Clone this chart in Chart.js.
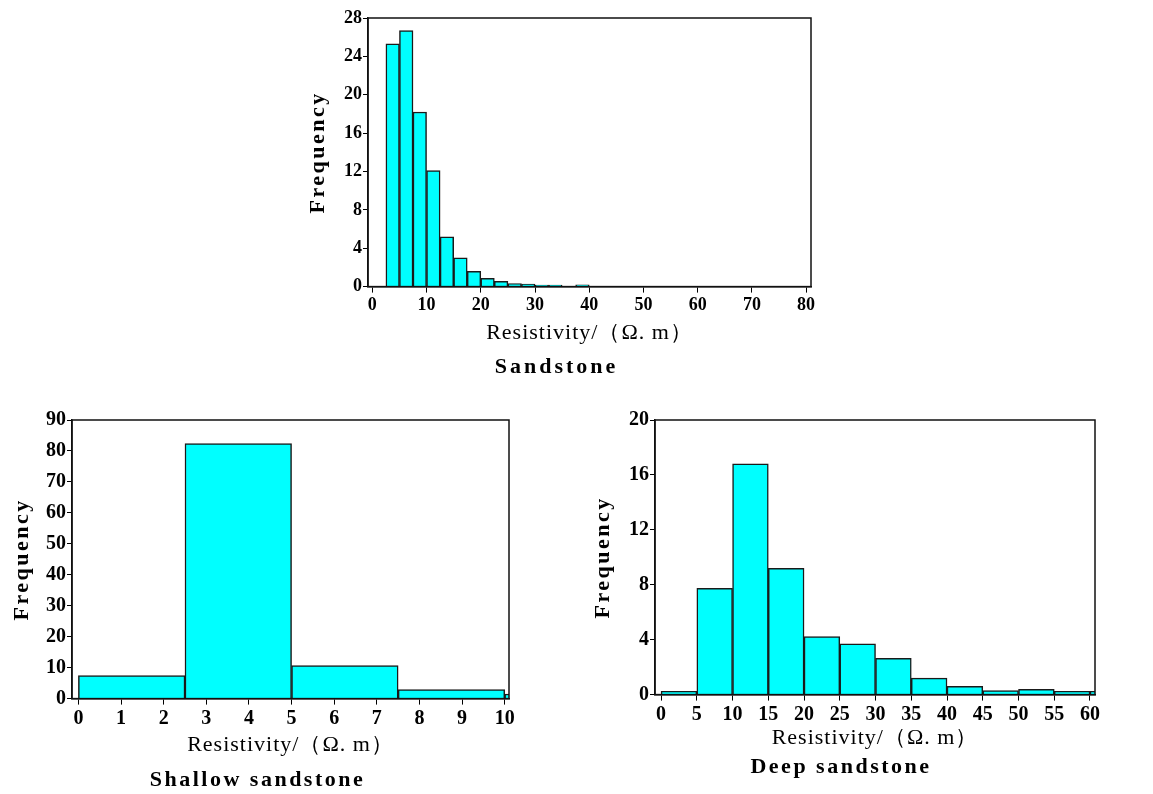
<!DOCTYPE html>
<html>
<head>
<meta charset="utf-8">
<script src="https://cdn.jsdelivr.net/npm/chart.js@4.4.0/dist/chart.umd.min.js"></script>
<style>
  body { margin: 0; background: #fff; width: 1153px; height: 794px; position: relative; overflow: hidden; }
  .box { position: absolute; }
</style>
</head>
<body>
<div class="box" style="left:302px;top:0px;width:529px;height:382px"><canvas id="chartAll"></canvas></div>
<div class="box" style="left:6px;top:402px;width:523px;height:392px"><canvas id="chartShallow"></canvas></div>
<div class="box" style="left:587px;top:402px;width:528px;height:380px"><canvas id="chartDeep"></canvas></div>
<script>
// bin centres (Ω·m) and frequencies (%)
const allCenters = [3.75, 6.25, 8.75, 11.25, 13.75, 16.25, 18.75, 21.25, 23.75, 26.25, 28.75, 31.25, 33.75, 36.25, 38.75];
const allFreq = [25.3, 26.7, 18.2, 12.1, 5.2, 3.0, 1.6, 0.85, 0.55, 0.32, 0.25, 0.15, 0.15, 0, 0.18];
const allXTicks = [0, 10, 20, 30, 40, 50, 60, 70, 80];
const allYTicks = [0, 4, 8, 12, 16, 20, 24, 28];

const shallowCenters = [1.25, 3.75, 6.25, 8.75, 11.25];
const shallowFreq = [7.4, 82.4, 10.7, 2.9, 1.5];
const shallowXTicks = [0, 1, 2, 3, 4, 5, 6, 7, 8, 9, 10];
const shallowYTicks = [0, 10, 20, 30, 40, 50, 60, 70, 80, 90];

const deepCenters = [2.5, 7.5, 12.5, 17.5, 22.5, 27.5, 32.5, 37.5, 42.5, 47.5, 52.5, 57.5, 62.5];
const deepFreq = [0.24, 7.74, 16.8, 9.2, 4.22, 3.69, 2.64, 1.2, 0.61, 0.29, 0.39, 0.24, 0.24];
const deepXTicks = [0, 5, 10, 15, 20, 25, 30, 35, 40, 45, 50, 55, 60];
const deepYTicks = [0, 4, 8, 12, 16, 20];

const xTitle = 'Resistivity/（Ω. m）';
const yTitle = 'Frequency';
const serif = "'Liberation Serif', 'Times New Roman', serif";

// the titles in the figure are letter-spaced
const spacedText = { 'Frequency': 2.5, 'Sandstone': 3, 'Shallow sandstone': 2.5, 'Deep sandstone': 2.5 };
spacedText[xTitle] = 1;

const spacing = {
    id: 'spacing',
    beforeDraw(chart) {
        const ctx = chart.ctx;
        if (ctx._spaced) return;
        const fill = ctx.fillText;
        ctx.fillText = function (text, x, y, w) {
            const gap = spacedText[text];
            if (gap) {
                this.save();
                this.letterSpacing = gap + 'px';
                fill.call(this, text, x, y);
                this.restore();
            } else {
                fill.call(this, text, x, y, w);
            }
        };
        ctx._spaced = true;
    }
};

const frame = {
    id: 'frame',
    afterDatasetsDraw(chart) {
        const { ctx, chartArea: a } = chart;
        ctx.save();
        ctx.strokeStyle = '#111';
        ctx.lineWidth = 1.5;
        ctx.strokeRect(a.left, a.top, a.right - a.left, a.bottom - a.top);
        ctx.restore();
    }
};

function histogram(id, centers, freq, o) {
    return new Chart(document.getElementById(id), {
        type: 'bar',
        data: {
            datasets: [{
                xAxisID: 'bins',
                data: centers.map((c, i) => ({ x: c, y: freq[i] })),
                backgroundColor: '#00ffff',
                borderColor: '#1a1a1a',
                borderWidth: 1.5,
                barPercentage: 1,
                categoryPercentage: 1
            }]
        },
        options: {
            responsive: true,
            maintainAspectRatio: false,
            animation: false,
            layout: { padding: o.padding },
            plugins: {
                legend: { display: false },
                tooltip: { enabled: false },
                title: {
                    display: true,
                    text: o.title,
                    position: 'bottom',
                    color: '#000',
                    font: { family: serif, size: 22, weight: 'bold' },
                    padding: { top: o.titlePad, bottom: 0 }
                }
            },
            scales: {
                // hidden axis that carries the bars, so the tick spacing doesn't shrink them
                bins: {
                    type: 'linear',
                    position: 'bottom',
                    display: false,
                    min: o.xMin,
                    max: o.xMax,
                    offset: false,
                    afterBuildTicks: s => { s.ticks = [{ value: o.xMin }, { value: o.xMax }]; }
                },
                x: {
                    type: 'linear',
                    min: o.xMin,
                    max: o.xMax,
                    offset: false,
                    afterBuildTicks: s => { s.ticks = o.xTicks.map(v => ({ value: v })); },
                    afterFit: s => { s.height = o.xHeight; },
                    grid: { display: true, offset: false, drawOnChartArea: false, color: '#000', tickLength: 6 },
                    border: { color: '#111', width: 1.5 },
                    ticks: { color: '#000', autoSkip: false, maxRotation: 0, padding: 2, font: { family: serif, size: o.tickSize, weight: 'bold' } },
                    title: { display: true, text: xTitle, color: '#000', font: { family: serif, size: 22 }, padding: { top: 0, bottom: 0 } }
                },
                y: {
                    min: 0,
                    max: o.yTicks[o.yTicks.length - 1],
                    afterBuildTicks: s => { s.ticks = o.yTicks.map(v => ({ value: v })); },
                    afterFit: s => { s.width = o.yWidth; },
                    grid: { display: true, drawOnChartArea: false, color: '#000', tickLength: 5 },
                    border: { color: '#111', width: 1.5 },
                    ticks: { color: '#000', padding: 1, font: { family: serif, size: o.tickSize, weight: 'bold' } },
                    title: { display: true, text: yTitle, color: '#000', font: { family: serif, size: 22, weight: 'bold' }, padding: { top: 3, bottom: 3 } }
                }
            }
        },
        plugins: [frame, spacing]
    });
}

histogram('chartAll', allCenters, allFreq, {
    title: 'Sandstone', xMin: -0.8, xMax: 80.9, xTicks: allXTicks, yTicks: allYTicks,
    tickSize: 18, xHeight: 60, yWidth: 66, titlePad: 8,
    padding: { left: 0, right: 20, top: 18, bottom: 1 }
});
histogram('chartShallow', shallowCenters, shallowFreq, {
    title: 'Shallow sandstone', xMin: -0.15, xMax: 10.1, xTicks: shallowXTicks, yTicks: shallowYTicks,
    tickSize: 20, xHeight: 60, yWidth: 66, titlePad: 9,
    padding: { left: 0, right: 20, top: 18, bottom: 0 }
});
histogram('chartDeep', deepCenters, deepFreq, {
    title: 'Deep sandstone', xMin: -0.85, xMax: 60.7, xTicks: deepXTicks, yTicks: deepYTicks,
    tickSize: 20, xHeight: 57, yWidth: 68, titlePad: 3,
    padding: { left: 0, right: 20, top: 18, bottom: 1 }
});
</script>
</body>
</html>
